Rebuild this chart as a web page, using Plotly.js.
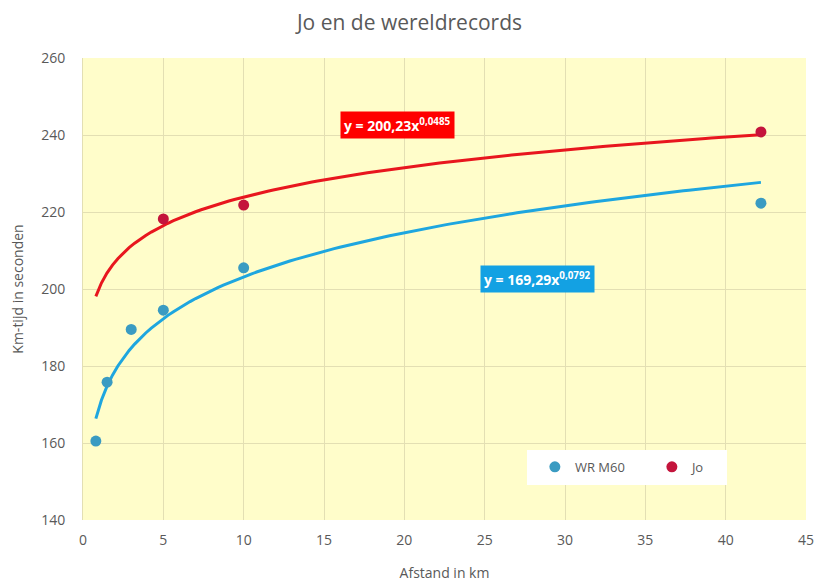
<!DOCTYPE html>
<html><head><meta charset="utf-8">
<script src="https://cdn.plot.ly/plotly-3.0.1.min.js"></script>
<style>html,body{margin:0;padding:0;background:#fff}</style>
</head><body><div id="chart" style="width:819px;height:583px"></div>
<script>
// Data
const wrDist = [0.8, 1.5, 3, 5, 10, 42.195];
const wrTime = [160.5, 175.8, 189.5, 194.5, 205.5, 222.3];
const joDist = [5, 10, 42.195];
const joTime = [218.2, 221.8, 240.8];
// Trendline coefficients (power fit y = a*x^b) as shown in the chart
const wrFit = {a: 169.29, b: 0.0792};
const joFit = {a: 200.23, b: 0.0485};
const fitRange = [0.8, 42.195];

function trend(fit){
  const xs=[], ys=[];
  const n=120;
  for(let i=0;i<=n;i++){
    const x=fitRange[0]+(fitRange[1]-fitRange[0])*i/n;
    xs.push(x); ys.push(fit.a*Math.pow(x,fit.b));
  }
  return {xs, ys};
}
const tWr=trend(wrFit), tJo=trend(joFit);

const font="'Open Sans', 'Liberation Sans', sans-serif";
const data=[
  {x:tWr.xs,y:tWr.ys,mode:'lines',line:{color:'#1ea6df',width:3},showlegend:false,hoverinfo:'skip'},
  {x:tJo.xs,y:tJo.ys,mode:'lines',line:{color:'#e8161e',width:3},showlegend:false,hoverinfo:'skip'},
  {x:wrDist,y:wrTime,mode:'markers',name:'WR M60',marker:{color:'#3a9bc2',size:11}},
  {x:joDist,y:joTime,mode:'markers',name:'Jo',marker:{color:'#c4143c',size:11}}
];
const layout={
  width:819,height:583,
  margin:{l:83,r:13,t:58,b:63},
  paper_bgcolor:'#ffffff',plot_bgcolor:'#fffdca',
  font:{family:font,color:'#595959',size:13},
  title:{text:'Jo en de wereldrecords',x:0.5,xanchor:'center',y:0.962,yanchor:'middle',font:{size:21,color:'#595959',family:font}},
  xaxis:{range:[0,45],dtick:5,tick0:0,showgrid:true,gridcolor:'#e3dfb3',gridwidth:1,zeroline:false,
    showline:false,ticks:'',ticklabelstandoff:10,tickfont:{size:14,color:'#595959'},
    title:{text:'Afstand in km',font:{size:14,color:'#595959'},standoff:20}},
  yaxis:{range:[140,260],dtick:20,tick0:140,showgrid:true,gridcolor:'#e3dfb3',gridwidth:1,zeroline:false,
    showline:true,linecolor:'#e3dfb3',ticks:'',ticklabelstandoff:14,tickfont:{size:14,color:'#595959'},
    title:{text:'Km-tijd in seconden',font:{size:14,color:'#595959'},standoff:14}},
  legend:{orientation:'h',x:0.625,y:0.115,xanchor:'left',yanchor:'middle',bgcolor:'rgba(0,0,0,0)',
    font:{size:13,color:'#595959'},borderwidth:0,
    entrywidth:72,entrywidthmode:'pixels'},
  shapes:[
    {type:'rect',xref:'paper',yref:'paper',x0:(527-83)/723,x1:(727-83)/723,y0:(520-485)/462,y1:(520-450)/462,
     fillcolor:'#ffffff',line:{width:0},layer:'above'}
  ],
  annotations:[
    {x:19.6,y:242.5,xref:'x',yref:'y',text:'<b>y = 200,23x<sup>0,0485</sup></b>',showarrow:false,
     bgcolor:'#ff0000',font:{color:'#ffffff',size:14,family:font},borderpad:3},
    {x:28.3,y:202.5,xref:'x',yref:'y',text:'<b>y = 169,29x<sup>0,0792</sup></b>',showarrow:false,
     bgcolor:'#13a1e3',font:{color:'#ffffff',size:14,family:font},borderpad:3}
  ]
};
Plotly.newPlot('chart',data,layout,{displayModeBar:false});
</script></body></html>
